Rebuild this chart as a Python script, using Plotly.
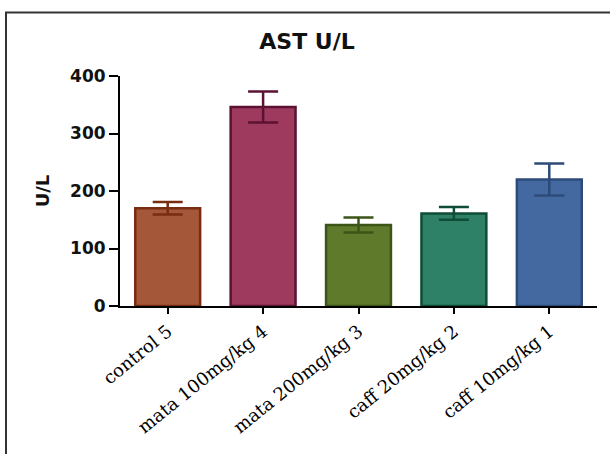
import plotly.graph_objects as go

# AST activity per treatment group (mean ± error)
groups = ["control 5", "mata 100mg/kg 4", "mata 200mg/kg 3", "caff 20mg/kg 2", "caff 10mg/kg 1"]
ast_mean = [170, 346, 141, 161, 220]
ast_err = [11, 27, 13, 11, 28]

fill_colors = ["#A5573A", "#9D3A5E", "#5F7A2B", "#2E8066", "#4469A0"]
edge_colors = ["#7A2C12", "#5C1232", "#3B5517", "#0F4D37", "#2C4B78"]

W, H = 610, 454
ml, mr, mt, mb = 120, 13, 76, 148
pw, ph = W - ml - mr, H - mt - mb

fig = go.Figure()
for g, m, e, fc, ec in zip(groups, ast_mean, ast_err, fill_colors, edge_colors):
    fig.add_trace(go.Bar(
        x=[g], y=[m],
        width=0.68,
        marker=dict(color=fc, line=dict(color=ec, width=2.5)),
        error_y=dict(type="data", array=[e], visible=True,
                     color=ec, thickness=2.5, width=15),
        showlegend=False,
    ))

def px_x(p):
    return (p - ml) / pw

def px_y(p):
    return (H - mb - p) / ph

# outer frame around the figure
fig.add_shape(type="rect", xref="paper", yref="paper",
              x0=px_x(6), x1=px_x(W + 20), y0=px_y(H + 20), y1=px_y(12.5),
              line=dict(color="#333333", width=2), layer="above")

fig.update_layout(
    width=W, height=H,
    margin=dict(l=ml, r=mr, t=mt, b=mb),
    paper_bgcolor="white", plot_bgcolor="white",
    title=dict(text="AST U/L", x=307 / W, xanchor="center",
               y=1 - 41 / H, yanchor="middle",
               font=dict(family="DejaVu Sans", size=22, color="#111111", weight="bold")),
)
fig.update_xaxes(
    range=[-0.5, 4.5], showline=True, linecolor="black", linewidth=2,
    ticks="outside", ticklen=6, tickwidth=2, tickcolor="black",
    tickangle=-39, showgrid=False, zeroline=False,
    tickfont=dict(family="DejaVu Serif", size=18, color="#000000"),
)
fig.update_yaxes(
    range=[0, 400], tickvals=[0, 100, 200, 300, 400],
    showline=True, linecolor="black", linewidth=2,
    ticks="outside", ticklen=9, tickwidth=2, tickcolor="black",
    showgrid=False, zeroline=False,
    tickfont=dict(family="DejaVu Sans", size=17, color="#111111", weight="bold"),
    title=dict(text="U/L", standoff=16,
               font=dict(family="DejaVu Sans", size=18, color="#111111", weight="bold")),
)

fig.write_html("out.html")
